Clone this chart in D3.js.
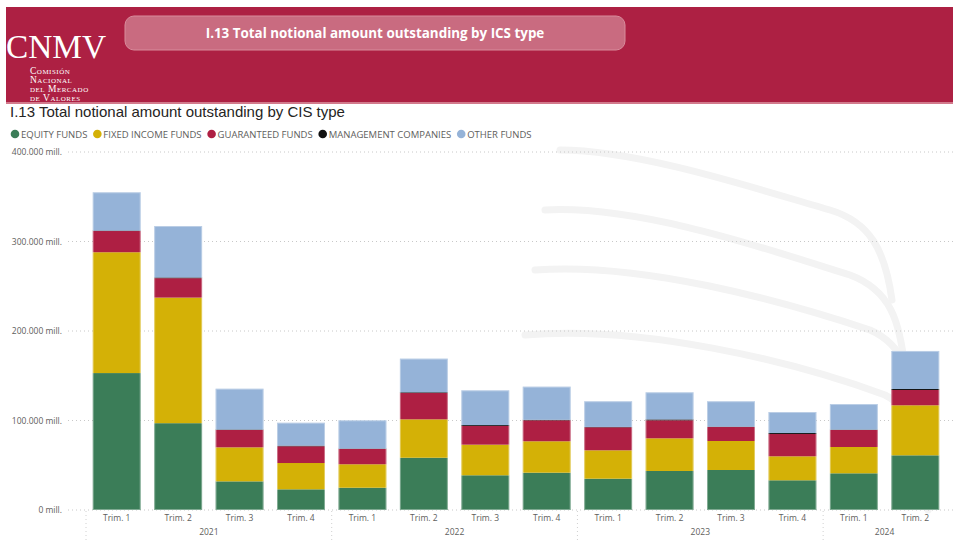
<!DOCTYPE html>
<html>
<head>
<meta charset="utf-8">
<script src="https://cdn.jsdelivr.net/npm/d3@7"></script>
<style>
  html, body { margin: 0; padding: 0; background: #fff; }
  svg { display: block; }
</style>
</head>
<body>
<svg id="chart" width="953" height="542"></svg>
<script>
// ---- data (values in millions of euros) ----
const quarters = ["Trim. 1","Trim. 2","Trim. 3","Trim. 4","Trim. 1","Trim. 2","Trim. 3","Trim. 4","Trim. 1","Trim. 2","Trim. 3","Trim. 4","Trim. 1","Trim. 2"];
const years    = ["2021","2021","2021","2021","2022","2022","2022","2022","2023","2023","2023","2023","2024","2024"];
const equityFunds      = [153000, 97000, 32000, 23100, 24900, 58400, 38800, 41700, 35000, 43600, 44700, 33200, 41000, 61100];
const fixedIncomeFunds = [135000, 140300, 38000, 29400, 26200, 42900, 34200, 35100, 31700, 36500, 32400, 26800, 29400, 55900];
const guaranteedFunds  = [23700, 21700, 19400, 18700, 17100, 29400, 20900, 23400, 25700, 20100, 15600, 24900, 19000, 17100];
const managementCos    = [500, 800, 500, 700, 400, 800, 1000, 600, 400, 1000, 400, 1100, 400, 1100];
const otherFunds       = [42800, 57500, 45600, 25600, 31600, 37600, 38800, 37000, 28700, 30300, 28400, 23500, 28600, 42500];
const seriesNames  = ["EQUITY FUNDS","FIXED INCOME FUNDS","GUARANTEED FUNDS","MANAGEMENT COMPANIES","OTHER FUNDS"];
const seriesColors = ["#3B7D58","#D4B106","#AE1F43","#111111","#95B3D8"];
const yTicks = [0, 100000, 200000, 300000, 400000];

const seriesValues = [equityFunds, fixedIncomeFunds, guaranteedFunds, managementCos, otherFunds];
const keys = quarters.map((q, i) => years[i] + "-" + q);
const rows = keys.map((k, i) => {
  const r = { key: k };
  seriesNames.forEach((s, j) => r[s] = seriesValues[j][i]);
  return r;
});

const svg = d3.select("#chart");

// ---- header ----
svg.append("rect").attr("x", 0).attr("y", 0).attr("width", 953).attr("height", 542).attr("fill", "#fff");
svg.append("rect").attr("x", 6).attr("y", 7).attr("width", 947).attr("height", 96).attr("fill", "#AD2043");
svg.append("rect").attr("x", 6).attr("y", 102).attr("width", 947).attr("height", 2).attr("fill", "#D27A8C");
svg.append("rect").attr("x", 125).attr("y", 16).attr("width", 500).attr("height", 34).attr("rx", 9)
  .attr("fill", "#C96B80").attr("stroke", "#D98C9C").attr("stroke-width", 1);
svg.append("text").attr("x", 375).attr("y", 38).attr("text-anchor", "middle")
  .attr("font-family", "'Open Sans', 'Noto Sans', sans-serif").attr("font-weight", 700)
  .attr("font-size", 13.4).attr("fill", "#fff")
  .text("I.13 Total notional amount outstanding by ICS type");

// logo
svg.append("text").attr("x", 6).attr("y", 58)
  .attr("font-family", "'Liberation Serif', 'DejaVu Serif', serif")
  .attr("font-size", 33).attr("fill", "#fff")
  .attr("textLength", 100).attr("lengthAdjust", "spacingAndGlyphs")
  .text("CNMV");
const logoLines = ["Comisión", "Nacional", "del Mercado", "de Valores"];
logoLines.forEach((t, i) => {
  svg.append("text").attr("x", 30).attr("y", 74 + i * 8.9)
    .attr("font-family", "'Liberation Serif', 'DejaVu Serif', serif")
    .attr("font-size", 9.5).attr("fill", "#fff").style("font-variant", "small-caps")
    .attr("letter-spacing", 0.5)
    .text(t);
});

// ---- faint building watermark ----
const wm = svg.append("g").attr("fill", "none").attr("stroke", "#F3F3F3").attr("stroke-linecap", "round");
const slabs = [
  "M560,150 C640,150 760,190 830,210 C870,222 885,250 892,300",
  "M545,210 C640,205 770,250 850,275 C890,290 900,320 905,370",
  "M535,270 C640,262 780,300 870,330 C905,345 915,380 918,430",
  "M525,335 C640,325 790,360 885,395 C915,410 925,450 928,510"
];
slabs.forEach(d => wm.append("path").attr("d", d).attr("stroke-width", 7));

// ---- chart title ----
svg.append("text").attr("x", 10).attr("y", 117)
  .attr("font-family", "'Liberation Sans', Arial, sans-serif").attr("font-size", 15).attr("fill", "#252423")
  .text("I.13 Total notional amount outstanding by CIS type");

// ---- legend ----
const legend = svg.append("g").attr("font-family", "'Open Sans', 'Noto Sans', sans-serif").attr("font-size", 9.5).attr("fill", "#605E5C");
let lx = 15;
seriesNames.forEach((s, i) => {
  legend.append("circle").attr("cx", lx).attr("cy", 134).attr("r", 4.3).attr("fill", seriesColors[i]);
  const t = legend.append("text").attr("x", lx + 6).attr("y", 137.5).text(s);
  lx += 6 + t.node().getComputedTextLength() + 10;
});

// ---- scales ----
const x = d3.scaleBand().domain(keys).range([86, 946]).paddingInner(0.22).paddingOuter(0.11);
const y = d3.scaleLinear().domain([0, 400000]).range([510, 152]);

// gridlines + y labels
const fmt = v => d3.format(",")(v).replace(/,/g, ".") + " mill.";
const yAxis = svg.append("g");
yTicks.forEach(t => {
  yAxis.append("line").attr("x1", 68).attr("x2", 953).attr("y1", y(t)).attr("y2", y(t))
    .attr("stroke", "#C8C8C8").attr("stroke-width", 1).attr("stroke-dasharray", "1,3");
  yAxis.append("text").attr("x", 62).attr("y", y(t) + 3).attr("text-anchor", "end")
    .attr("font-family", "'Open Sans', 'Noto Sans', sans-serif").attr("font-size", 8.5).attr("fill", "#605E5C")
    .text(fmt(t));
});

// ---- stacked bars ----
const stack = d3.stack().keys(seriesNames)(rows);
const barsG = svg.append("g");
stack.forEach((layer, li) => {
  barsG.append("g").attr("fill", seriesColors[li])
    .selectAll("rect").data(layer).join("rect")
    .attr("x", d => x(d.data.key))
    .attr("width", x.bandwidth())
    .attr("y", d => y(d[1]))
    .attr("height", d => Math.max(0, y(d[0]) - y(d[1])));
});
// faint outline on each bar
barsG.append("g").selectAll("rect").data(rows).join("rect")
  .attr("x", d => x(d.key) + 0.5).attr("width", x.bandwidth() - 1)
  .attr("y", d => y(d3.sum(seriesNames, s => d[s])) + 0.5)
  .attr("height", d => y(0) - y(d3.sum(seriesNames, s => d[s])) - 1)
  .attr("fill", "none").attr("stroke", "rgba(255,255,255,0.35)").attr("stroke-width", 1);

// ---- x axis ----
const xAxis = svg.append("g").attr("font-family", "'Open Sans', 'Noto Sans', sans-serif").attr("font-size", 8.5).attr("fill", "#605E5C");
keys.forEach((k, i) => {
  xAxis.append("text").attr("x", x(k) + x.bandwidth() / 2).attr("y", 521).attr("text-anchor", "middle").text(quarters[i]);
});
const uniqYears = Array.from(new Set(years));
uniqYears.forEach(yr => {
  const idx = keys.filter((k, i) => years[i] === yr);
  const x0 = x(idx[0]) - x.step() * x.paddingInner() / 2;
  const x1 = x(idx[idx.length - 1]) + x.bandwidth() + x.step() * x.paddingInner() / 2;
  xAxis.append("text").attr("x", (x0 + x1) / 2).attr("y", 535).attr("text-anchor", "middle").text(yr);
  xAxis.append("line").attr("x1", x0).attr("x2", x0).attr("y1", 511).attr("y2", 542)
    .attr("stroke", "#D0D0D0").attr("stroke-dasharray", "1,3");
});
</script>
</body>
</html>
